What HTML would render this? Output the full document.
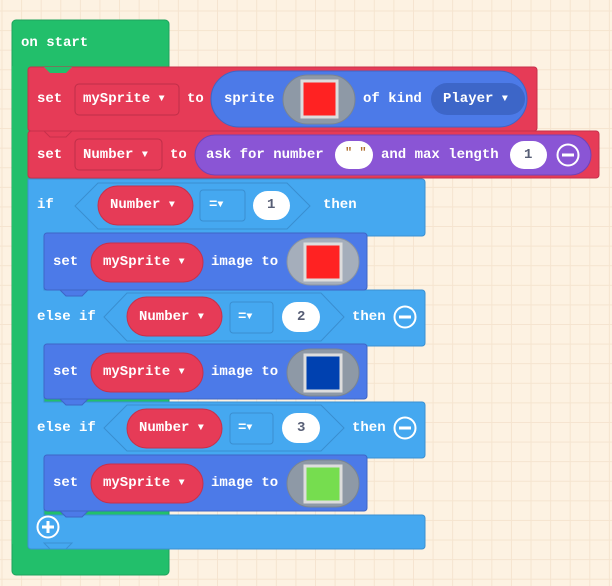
<!DOCTYPE html>
<html><head><meta charset="utf-8"><style>
html,body{margin:0;padding:0}
body{width:612px;height:586px;overflow:hidden;background-color:#fdf2e2;
background-image:linear-gradient(to right,#f5e4cf 1px,transparent 1px),linear-gradient(to bottom,#f5e4cf 1px,transparent 1px);
background-size:19.6px 19.6px;background-position:1.5px 10.5px}
svg{position:absolute;left:0;top:0}
text{font-family:"Liberation Mono",monospace;font-weight:bold;font-size:14px;fill:#fff;dominant-baseline:central}
.d{fill:#575e75}
.a{font-size:10px}
</style></head><body>
<svg width="612" height="586" viewBox="0 0 612 586">
<!-- green on start -->
<rect x="12" y="20" width="157" height="555" rx="4" fill="#22bf6b" stroke="#1ea35c"/>
<rect x="12" y="66" width="16" height="478" fill="#22bf6b"/>
<text x="21" y="43">on start</text>

<!-- set mySprite -->
<rect x="28" y="67" width="509" height="64" rx="3" fill="#e63b57" stroke="#c7304b"/>
<path d="M44 67 l6 6 h16 l6 -6z" fill="#22bf6b"/>
<text x="37" y="99">set</text>
<rect x="75" y="84" width="104" height="31" rx="4" fill="#e63b57" stroke="#bf2f48"/>
<text x="83" y="99">mySprite <tspan class="a">▼</tspan></text>
<text x="187" y="99">to</text>
<rect x="211" y="71" width="316" height="56" rx="28" fill="#4c7ae8" stroke="#3e65c6"/>
<text x="224" y="99">sprite</text>
<rect x="283" y="75" width="72" height="49" rx="24.5" fill="#8e99a6" stroke="#7a8592"/>
<rect x="302" y="81" width="35" height="36" fill="#ff2222" stroke="#ddd" stroke-width="3"/>
<text x="363" y="99">of kind</text>
<rect x="431" y="83" width="94" height="32" rx="16" fill="#3d66c8"/>
<text x="443" y="99">Player <tspan class="a">▼</tspan></text>

<!-- set Number -->
<rect x="28" y="131" width="571" height="47" rx="3" fill="#e63b57" stroke="#c7304b"/>
<path d="M44 131 l6 6 h16 l6 -6z" fill="#e63b57" stroke="#c7304b"/>
<text x="37" y="155">set</text>
<rect x="75" y="139" width="87" height="31" rx="4" fill="#e63b57" stroke="#bf2f48"/>
<text x="83" y="155">Number <tspan class="a">▼</tspan></text>
<text x="170" y="155">to</text>
<rect x="195" y="135" width="396" height="40" rx="20" fill="#8a55d5" stroke="#7043b8"/>
<text x="206" y="155">ask for number</text>
<rect x="335" y="141" width="38" height="28" rx="14" fill="#fff"/>
<text x="345" y="153" style="fill:#b07030;font-size:12px">" "</text>
<text x="381" y="155">and max length</text>
<rect x="510" y="141" width="37" height="28" rx="14" fill="#fff"/>
<text x="524" y="155" class="d">1</text>
<circle cx="568" cy="155" r="10.5" fill="none" stroke="#fff" stroke-width="2"/>
<rect x="562" y="153.5" width="12" height="3" fill="#fff"/>

<!-- if block -->
<path d="M28 179 h394 a3 3 0 0 1 3 3 v51 a3 3 0 0 1 -3 3 H44 v54 h378 a3 3 0 0 1 3 3 v50 a3 3 0 0 1 -3 3 H44 v56 h378 a3 3 0 0 1 3 3 v50 a3 3 0 0 1 -3 3 H44 v57 h378 a3 3 0 0 1 3 3 v28 a3 3 0 0 1 -3 3 H31 a3 3 0 0 1 -3 -3z" fill="#45a8f0" stroke="#3a90d2"/>
<path d="M44 543 l6 6 h16 l6 -6z" fill="#45a8f0" stroke="#3a90d2"/>
<text x="37" y="205">if</text>
<polygon points="75,206 98,183 287,183 310,206 287,229 98,229" fill="#45a8f0" stroke="#3a8ed0"/>
<rect x="98" y="186" width="95" height="39" rx="19.5" fill="#e63b57" stroke="#c7304b"/>
<text x="110" y="205">Number <tspan class="a">▼</tspan></text>
<rect x="200" y="190" width="45" height="31" rx="3" fill="#45a8f0" stroke="#3a8ed0"/>
<text x="209" y="205">=<tspan class="a">▼</tspan></text>
<rect x="253" y="191" width="37" height="29" rx="14.5" fill="#fff"/>
<text x="267" y="205" class="d">1</text>
<text x="323" y="205">then</text>

<text x="37" y="317">else if</text>
<polygon points="104,317 127,293 321,293 344,317 321,341 127,341" fill="#45a8f0" stroke="#3a8ed0"/>
<rect x="127" y="297" width="95" height="39" rx="19.5" fill="#e63b57" stroke="#c7304b"/>
<text x="139" y="317">Number <tspan class="a">▼</tspan></text>
<rect x="230" y="302" width="43" height="31" rx="3" fill="#45a8f0" stroke="#3a8ed0"/>
<text x="238" y="317">=<tspan class="a">▼</tspan></text>
<rect x="282" y="302" width="38" height="30" rx="15" fill="#fff"/>
<text x="297" y="317" class="d">2</text>
<text x="352" y="317">then</text>
<circle cx="405" cy="317" r="10.5" fill="none" stroke="#fff" stroke-width="2"/>
<rect x="399" y="315.5" width="12" height="3" fill="#fff"/>

<text x="37" y="428">else if</text>
<polygon points="104,428 127,405 321,405 344,428 321,451 127,451" fill="#45a8f0" stroke="#3a8ed0"/>
<rect x="127" y="409" width="95" height="39" rx="19.5" fill="#e63b57" stroke="#c7304b"/>
<text x="139" y="428">Number <tspan class="a">▼</tspan></text>
<rect x="230" y="413" width="43" height="31" rx="3" fill="#45a8f0" stroke="#3a8ed0"/>
<text x="238" y="428">=<tspan class="a">▼</tspan></text>
<rect x="282" y="413" width="38" height="30" rx="15" fill="#fff"/>
<text x="297" y="428" class="d">3</text>
<text x="352" y="428">then</text>
<circle cx="405" cy="428" r="10.5" fill="none" stroke="#fff" stroke-width="2"/>
<rect x="399" y="426.5" width="12" height="3" fill="#fff"/>

<circle cx="48" cy="527" r="10.5" fill="none" stroke="#fff" stroke-width="2"/>
<rect x="42" y="525.5" width="12" height="3" fill="#fff"/>
<rect x="46.5" y="521" width="3" height="12" fill="#fff"/>

<!-- set image blocks -->
<g>
<rect x="44" y="233" width="323" height="57" rx="3" fill="#4c7ae8" stroke="#3e65c6"/>
<path d="M60 290 l6 6 h16 l6 -6z" fill="#4c7ae8" stroke="#3e65c6"/>
<text x="53" y="262">set</text>
<rect x="91" y="243" width="112" height="39" rx="19.5" fill="#e63b57" stroke="#c7304b"/>
<text x="103" y="262">mySprite <tspan class="a">▼</tspan></text>
<text x="211" y="262">image to</text>
<rect x="287" y="238" width="72" height="47" rx="23.5" fill="#a5aebb" stroke="#8a94a2"/>
<rect x="305" y="244" width="36" height="36" fill="#ff2222" stroke="#ddd" stroke-width="3"/>
</g>
<g>
<rect x="44" y="344" width="323" height="55" rx="3" fill="#4c7ae8" stroke="#3e65c6"/>
<path d="M60 399 l6 6 h16 l6 -6z" fill="#4c7ae8" stroke="#3e65c6"/>
<text x="53" y="372">set</text>
<rect x="91" y="353" width="112" height="39" rx="19.5" fill="#e63b57" stroke="#c7304b"/>
<text x="103" y="372">mySprite <tspan class="a">▼</tspan></text>
<text x="211" y="372">image to</text>
<rect x="287" y="349" width="72" height="47" rx="23.5" fill="#8e99a6" stroke="#7a8592"/>
<rect x="305" y="355" width="36" height="36" fill="#0041b0" stroke="#ddd" stroke-width="3"/>
</g>
<g>
<rect x="44" y="455" width="323" height="56" rx="3" fill="#4c7ae8" stroke="#3e65c6"/>
<path d="M60 511 l6 6 h16 l6 -6z" fill="#4c7ae8" stroke="#3e65c6"/>
<text x="53" y="483">set</text>
<rect x="91" y="464" width="112" height="39" rx="19.5" fill="#e63b57" stroke="#c7304b"/>
<text x="103" y="483">mySprite <tspan class="a">▼</tspan></text>
<text x="211" y="483">image to</text>
<rect x="287" y="460" width="72" height="47" rx="23.5" fill="#8e99a6" stroke="#7a8592"/>
<rect x="305" y="466" width="36" height="36" fill="#76dd4f" stroke="#ddd" stroke-width="3"/>
</g>
</svg>
</body></html>
